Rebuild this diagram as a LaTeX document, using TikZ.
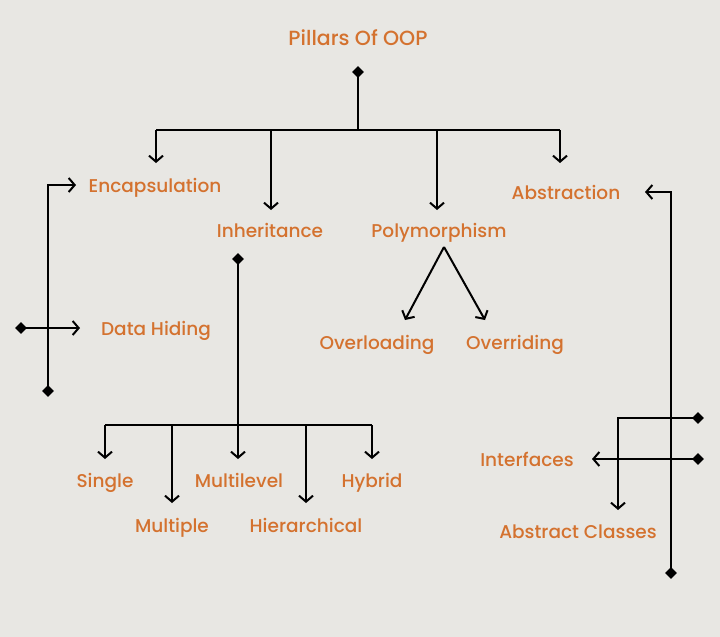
\documentclass[tikz,border=0pt]{standalone}
\usepackage{fontspec}
\setmainfont{Poppins}[UprightFont=* Medium]
\usetikzlibrary{arrows.meta,shapes.geometric}
\definecolor{bg}{HTML}{E8E7E3}
\definecolor{txt}{HTML}{D4722F}
\begin{document}
\begin{tikzpicture}[x=1pt,y=-1pt,
  lbl/.style={text=txt,font=\fontsize{18.5}{21}\selectfont,inner sep=0pt,anchor=base,yshift=-7.5pt},
  ttl/.style={lbl,font=\fontsize{20.5}{24}\selectfont},
  con/.style={line width=2pt,black,line join=miter},
  arr/.style={con,-{Straight Barb[length=6pt,width=14pt,line width=2pt]}},
  dia/.style={diamond,fill=black,inner sep=0pt,minimum size=12pt}]
\fill[bg] (0,0) rectangle (720,637);
\useasboundingbox (0,0) rectangle (720,637);

% labels
\node[ttl] (title) at (358,38) {Pillars Of OOP};
\node[lbl] (enc) at (155,185) {Encapsulation};
\node[lbl] (inh) at (270,230) {Inheritance};
\node[lbl] (poly) at (439,230) {Polymorphism};
\node[lbl] (abs) at (566,192) {Abstraction};
\node[lbl] (dh) at (156,328) {Data Hiding};
\node[lbl] (ovl) at (377,342) {Overloading};
\node[lbl] (ovr) at (515,342) {Overriding};
\node[lbl] (sgl) at (105,480) {Single};
\node[lbl] (mul) at (172,525) {Multiple};
\node[lbl] (mlv) at (239,480) {Multilevel};
\node[lbl] (hie) at (306,525) {Hierarchical};
\node[lbl] (hyb) at (372,480) {Hybrid};
\node[lbl] (itf) at (527,459) {Interfaces};
\node[lbl] (acl) at (578,531) {Abstract Classes};

% diamonds
\node[dia] (d0) at (358,72) {};
\node[dia] (dinh) at (238,259) {};
\node[dia] (denc) at (48,391) {};
\node[dia] (ddh) at (21,328) {};
\node[dia] (dabs) at (671,573) {};
\node[dia] (dacl) at (698,418) {};
\node[dia] (ditf) at (698,459) {};

% top tree
\coordinate (j0) at (358,130);
\coordinate (jl) at (156,130);
\coordinate (jr) at (560,130);
\coordinate (ji) at (271,130);
\coordinate (jp) at (437,130);
\coordinate (tenc) at (156,163);
\coordinate (tinh) at (271,210);
\coordinate (tpoly) at (437,210);
\coordinate (tabs) at (560,163);
\draw[con] (d0.center) -- (j0);
\draw[con] (jl) -- (jr);
\draw[arr] (jl) -- (tenc);
\draw[arr] (ji) -- (tinh);
\draw[arr] (jp) -- (tpoly);
\draw[arr] (jr) -- (tabs);

% encapsulation
\coordinate (ec) at (48,185);
\coordinate (tec) at (76,185);
\coordinate (tdh) at (80,328);
\draw[arr] (denc.center) -- (ec) -- (tec);
\draw[arr] (ddh.center) -- (tdh);

% polymorphism
\coordinate (apex) at (444,247);
\coordinate (tovl) at (405,320);
\coordinate (tovr) at (485,320);
\draw[arr] (apex) -- (tovl);
\draw[arr] (apex) -- (tovr);

% inheritance
\coordinate (ij) at (238,425);
\coordinate (il) at (105,425);
\coordinate (im) at (172,425);
\coordinate (ih) at (306,425);
\coordinate (ir) at (372,425);
\coordinate (tsgl) at (105,459);
\coordinate (tmul) at (172,503);
\coordinate (tmlv) at (238,459);
\coordinate (thie) at (306,503);
\coordinate (thyb) at (372,459);
\draw[con] (il) -- (ir);
\draw[arr] (dinh.center) -- (tmlv);
\draw[arr] (il) -- (tsgl);
\draw[arr] (im) -- (tmul);
\draw[arr] (ih) -- (thie);
\draw[arr] (ir) -- (thyb);

% abstraction
\coordinate (ac) at (671,192);
\coordinate (tac) at (645,192);
\coordinate (cl) at (618,418);
\coordinate (tcl) at (618,510);
\coordinate (titf) at (592,459);
\draw[arr] (dabs.center) -- (ac) -- (tac);
\draw[arr] (dacl.center) -- (cl) -- (tcl);
\draw[arr] (ditf.center) -- (titf);
\end{tikzpicture}
\end{document}
